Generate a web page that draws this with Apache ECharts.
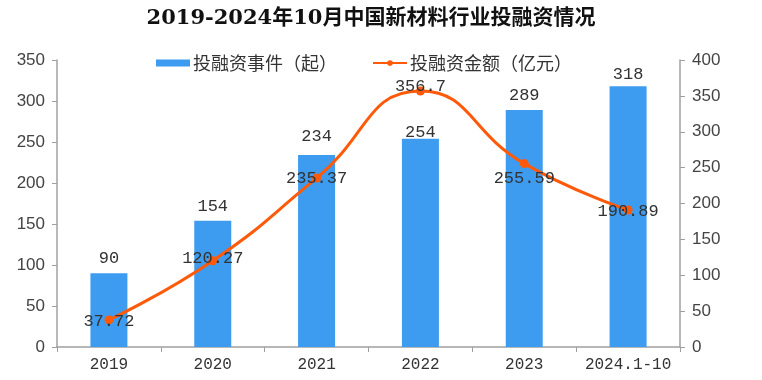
<!DOCTYPE html>
<html><head><meta charset="utf-8">
<script src="https://cdn.jsdelivr.net/npm/echarts@6/dist/echarts.min.js"></script>
<style>html,body{margin:0;padding:0;background:#fff}#c{width:762px;height:380px}</style>
</head><body><div id="c"></div>
<script>
const titleText = '2019-2024年10月中国新材料行业投融资情况';
const categories = ['2019', '2020', '2021', '2022', '2023', '2024.1-10'];
const eventName = '投融资事件（起）';
const amountName = '投融资金额（亿元）';
const eventCounts = [90, 154, 234, 254, 289, 318];
const amounts = [37.72, 120.27, 235.37, 356.7, 255.59, 190.89];
// label offsets (style only)
const amountLabelOffsets = [[0,2],[0,-2],[0,0],[0,-5],[0,15],[0,1]];
const barLabelDist = [6,6,10,-2,6,3];

const mono = '"Liberation Mono", "DejaVu Sans Mono", "Noto Sans CJK SC", monospace';
const chart = echarts.init(document.getElementById('c'));
chart.setOption({
  animation: false,
  title: {
    text: titleText, left: 366, top: 3, textAlign: 'center',
    textStyle: {fontFamily: '"DejaVu Serif", "Noto Sans CJK SC", serif', fontWeight: 'bold', fontSize: 21, color: '#111'}
  },
  legend: {
    top: 49, left: 151, itemGap: 35, itemWidth: 34, itemHeight: 7,
    textStyle: {fontSize: 18, color: '#333', fontFamily: '"Noto Sans CJK SC", sans-serif', padding: [0,0,0,-2]},
    data: [{name: eventName, icon: 'rect'}, {name: amountName}]
  },
  grid: {left: 57, right: 82, top: 60, bottom: 33},
  xAxis: {
    type: 'category', data: categories,
    axisLine: {lineStyle: {color: '#a0a0a0', width: 1.5}},
    axisTick: {show: true, length: 5, lineStyle: {color: '#a0a0a0'}},
    axisLabel: {color: '#333', fontSize: 16, fontFamily: mono, margin: 10, interval: 0}
  },
  yAxis: [{
    type: 'value', min: 0, max: 350, interval: 50,
    axisLine: {show: true, lineStyle: {color: '#a0a0a0', width: 1.5}},
    axisTick: {show: true, length: 5, lineStyle: {color: '#a0a0a0'}},
    splitLine: {show: false},
    axisLabel: {color: '#444', fontSize: 17, fontFamily: '"Liberation Sans", Arial, sans-serif', margin: 12}
  }, {
    type: 'value', min: 0, max: 400, interval: 50,
    axisLine: {show: true, lineStyle: {color: '#a0a0a0', width: 1.5}},
    axisTick: {show: true, length: 5, lineStyle: {color: '#a0a0a0'}},
    splitLine: {show: false},
    axisLabel: {color: '#444', fontSize: 17, fontFamily: '"Liberation Sans", Arial, sans-serif', margin: 12}
  }],
  series: [{
    name: eventName, type: 'bar', barWidth: 37, yAxisIndex: 0,
    itemStyle: {color: '#3d9cf0'},
    data: eventCounts.map((v, i) => ({value: v, label: {distance: barLabelDist[i]}})),
    label: {show: true, position: 'top', color: '#333', fontSize: 17, fontFamily: mono}
  }, {
    name: amountName, type: 'line', yAxisIndex: 1, smooth: 0.5,
    symbol: 'circle', symbolSize: 9,
    lineStyle: {color: '#ff5a0a', width: 3},
    itemStyle: {color: '#ff5a0a'},
    data: amounts.map((v, i) => ({value: v, label: {offset: amountLabelOffsets[i]}})),
    label: {show: true, position: 'inside', color: '#333', fontSize: 17, fontFamily: mono},
    z: 5
  }]
});
</script></body></html>
